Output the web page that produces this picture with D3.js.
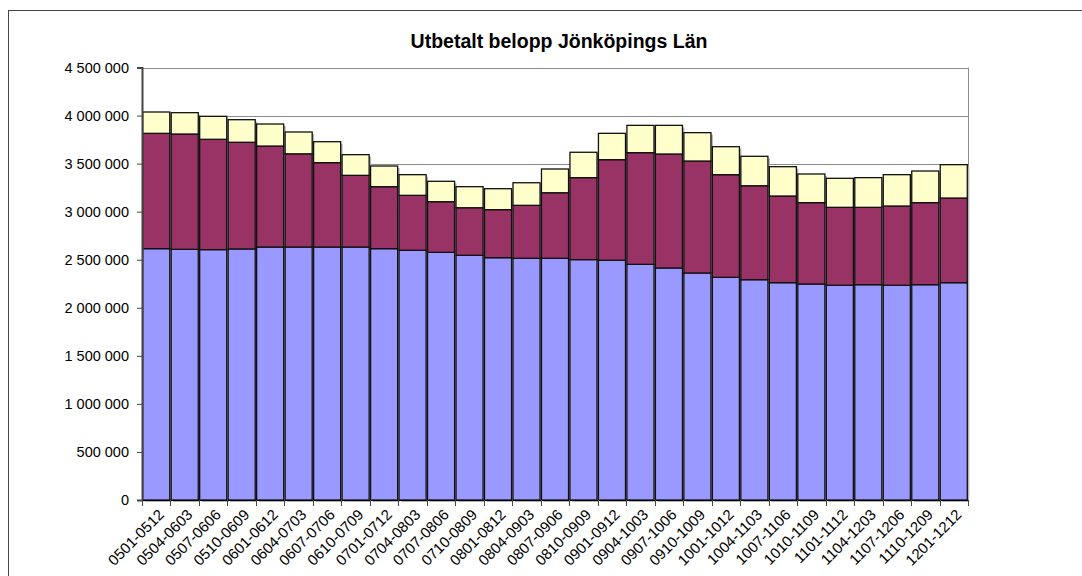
<!DOCTYPE html>
<html>
<head>
<meta charset="utf-8">
<script src="https://cdn.jsdelivr.net/npm/d3@7"></script>
<style>
body { margin: 0; background: #fff; }
text { font-family: Arial, "Liberation Sans", sans-serif; }
</style>
</head>
<body>
<div id="chart"></div>
<script>
// periods (rolling 12 months)
var periods = ["0501-0512","0504-0603","0507-0606","0510-0609","0601-0612","0604-0703","0607-0706","0610-0709","0701-0712","0704-0803","0707-0806","0710-0809","0801-0812","0804-0903","0807-0906","0810-0909","0901-0912","0904-1003","0907-1006","0910-1009","1001-1012","1004-1103","1007-1106","1010-1109","1101-1112","1104-1203","1107-1206","1110-1209","1201-1212"];

// three stacked parts
var lower  = [2615000,2608000,2605000,2612000,2632000,2632000,2632000,2632000,2615000,2598000,2577000,2546000,2521000,2515000,2515000,2501000,2494000,2452000,2414000,2362000,2317000,2292000,2261000,2247000,2234000,2240000,2234000,2240000,2261000];
var middle = [1200000,1200000,1148000,1110000,1051000,970000,878000,746000,645000,572000,527000,495000,500000,551000,682000,853000,1047000,1162000,1186000,1165000,1068000,978000,902000,847000,811000,805000,825000,854000,881000];
var upper  = [222000,222000,239000,235000,229000,227000,218000,215000,215000,215000,212000,219000,218000,235000,247000,264000,274000,284000,298000,295000,291000,306000,305000,298000,302000,309000,326000,329000,347000];

var yTicks = [0,500000,1000000,1500000,2000000,2500000,3000000,3500000,4000000,4500000];
var title = "Utbetalt belopp Jönköpings Län";

var W = 1082, H = 576;
var pLeft = 142, pRight = 968, pTop = 67.5, pBottom = 500;

var svg = d3.select("#chart").append("svg").attr("width", W).attr("height", H);

// chart area frame
svg.append("rect").attr("x", 8.5).attr("y", 10.5).attr("width", 1100).attr("height", 600)
  .style("fill", "#fff").style("stroke", "#444").style("stroke-width", 1);

svg.append("text").attr("x", 559).attr("y", 48).attr("text-anchor", "middle")
  .style("font-size", "19.5px").style("font-weight", "bold").text(title);

var table = periods.map(function(p, i) { return {period: p, lower: lower[i], middle: middle[i], upper: upper[i]}; });
var keys = ["lower", "middle", "upper"];
var colors = {lower: "#9999ff", middle: "#993366", upper: "#ffffcc"};

var x = d3.scaleBand().domain(periods).range([pLeft, pRight]).paddingInner(0.05).paddingOuter(0.025);
var y = d3.scaleLinear().domain([0, 4500000]).range([pBottom, pTop]);

// gridlines
svg.append("g").selectAll("line").data(yTicks.slice(1)).enter().append("line")
  .attr("x1", pLeft).attr("x2", pRight).attr("y1", function(d) { return Math.round(y(d)) + 0.5; }).attr("y2", function(d) { return Math.round(y(d)) + 0.5; })
  .style("stroke", "#8c8c8c").style("stroke-width", 1);
svg.append("line").attr("x1", pRight + 0.5).attr("x2", pRight + 0.5).attr("y1", pTop).attr("y2", pBottom)
  .style("stroke", "#8c8c8c");

var stacked = d3.stack().keys(keys)(table);

// bar shadows
svg.append("g").selectAll("rect").data(table).enter().append("rect")
  .attr("x", function(d) { return x(d.period) + 2; })
  .attr("y", function(d) { return y(d.lower + d.middle + d.upper) + 2; })
  .attr("width", x.bandwidth())
  .attr("height", function(d) { return pBottom - y(d.lower + d.middle + d.upper); })
  .style("fill", "#b4b4b4");

svg.append("g").selectAll("g").data(stacked).enter().append("g")
  .style("fill", function(d) { return colors[d.key]; })
  .selectAll("rect").data(function(d) { return d; }).enter().append("rect")
  .attr("x", function(d) { return x(d.data.period); })
  .attr("y", function(d) { return y(d[1]); })
  .attr("width", x.bandwidth())
  .attr("height", function(d) { return y(d[0]) - y(d[1]); })
  .style("stroke", "#111").style("stroke-width", 1.3);

// y axis
var yAxis = svg.append("g").attr("transform", "translate(" + pLeft + ",0)")
  .call(d3.axisLeft(y).tickValues(yTicks).tickSize(5).tickPadding(8)
    .tickFormat(function(d) { return d3.format(",")(d).replace(/,/g, " "); }));
yAxis.select(".domain").style("stroke", "#444").style("stroke-width", 2);
yAxis.selectAll(".tick line").style("stroke", "#444");
yAxis.selectAll("text").style("font-size", "14.5px").style("fill", "#000").style("font-family", "Arial, 'Liberation Sans', sans-serif");

// x axis
var xg = svg.append("g").attr("transform", "translate(0," + pBottom + ")");
xg.append("line").attr("x1", pLeft).attr("x2", pRight).attr("y1", 0.5).attr("y2", 0.5).style("stroke", "#000");
xg.selectAll("line.tk").data(periods.concat([null])).enter().append("line").attr("class", "tk")
  .attr("x1", function(d, i) { return Math.round(pLeft + i * x.step()) + 0.5; })
  .attr("x2", function(d, i) { return Math.round(pLeft + i * x.step()) + 0.5; })
  .attr("y1", 0).attr("y2", 6).style("stroke", "#444");
xg.selectAll("text").data(periods).enter().append("text")
  .attr("transform", function(d) { return "translate(" + (x(d) + x.bandwidth() / 2 + 5) + ",12) rotate(-45)"; })
  .attr("text-anchor", "end").attr("dy", "0.35em")
  .style("font-size", "15px").text(function(d) { return d; });
</script>
</body>
</html>
